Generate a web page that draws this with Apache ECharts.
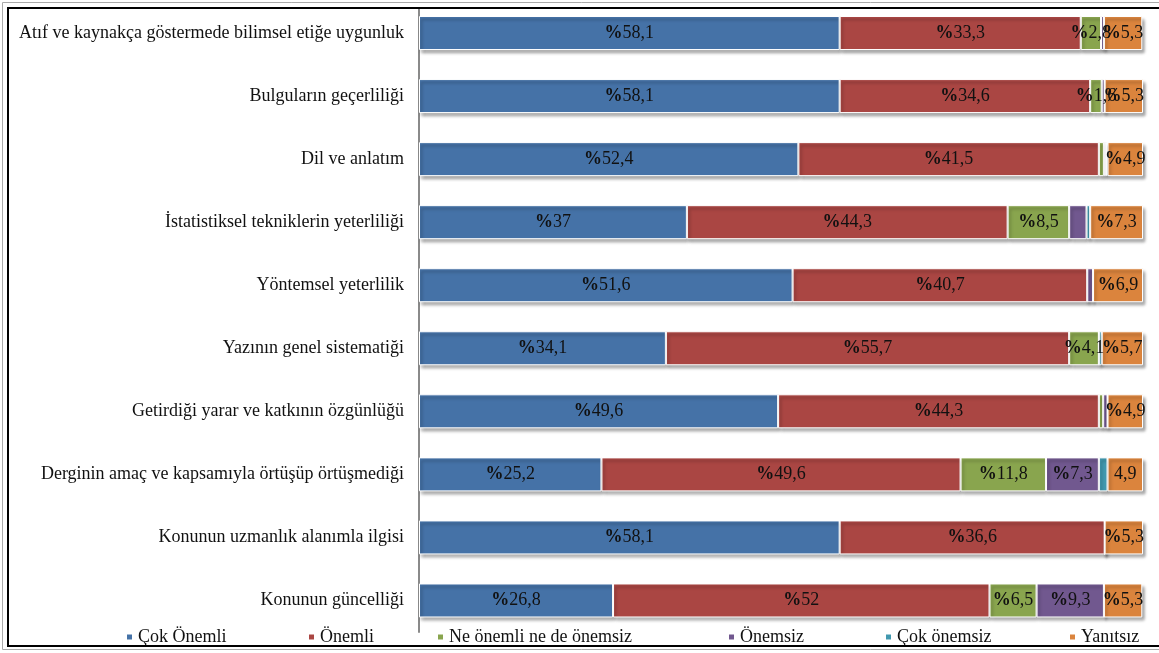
<!DOCTYPE html>
<html><head><meta charset="utf-8">
<script src="https://cdn.jsdelivr.net/npm/echarts@6/dist/echarts.min.js"></script>
<style>html,body{margin:0;padding:0;background:#fff}#c{width:1159px;height:653px}</style>
</head><body><div id="c"></div>
<script>
const categories = [
  "Atıf ve kaynakça göstermede bilimsel etiğe uygunluk",
  "Bulguların geçerliliği",
  "Dil ve anlatım",
  "İstatistiksel tekniklerin yeterliliği",
  "Yöntemsel yeterlilik",
  "Yazının genel sistematiği",
  "Getirdiği yarar ve katkının özgünlüğü",
  "Derginin amaç ve kapsamıyla örtüşüp örtüşmediği",
  "Konunun uzmanlık alanımla ilgisi",
  "Konunun güncelliği"
];
const seriesNames = ["Çok Önemli","Önemli","Ne önemli ne de önemsiz","Önemsiz","Çok önemsiz","Yanıtsız"];
const cokOnemli   = [58.1, 58.1, 52.4, 37,   51.6, 34.1, 49.6, 25.2, 58.1, 26.8];
const onemli      = [33.3, 34.6, 41.5, 44.3, 40.7, 55.7, 44.3, 49.6, 36.6, 52];
const neNe        = [2.8,  1.6,  0.7,  8.5,  0,    4.1,  0.6,  11.8, 0,    6.5];
const onemsiz     = [0.4,  0.4,  0.3,  2.4,  0.8,  0,    0.6,  7.3,  0,    9.3];
const cokOnemsiz  = [0,    0,    0.2,  0.5,  0,    0.4,  0,    1.2,  0,    0];
const yanitsiz    = [5.3,  5.3,  4.9,  7.3,  6.9,  5.7,  4.9,  4.9,  5.3,  5.3];
const noPercent   = [[5, 7]]; // [seriesIndex, dataIndex] labels shown without "%"
const colors = ["#4572A7","#AA4643","#89A54E","#71588F","#4198AF","#DB843D"];
const labelMin = [1.5, 1.5, 1.5, 3, 3, 1.5];

const values = [cokOnemli, onemli, neNe, onemsiz, cokOnemsiz, yanitsiz];
const font = "Liberation Serif";

const chart = echarts.init(document.getElementById('c'));
const series = values.map((arr, si) => ({
  name: seriesNames[si],
  type: 'bar',
  stack: 'total',
  barWidth: 34,
  data: arr,
  itemStyle: {
    color: colors[si],
    borderColor: '#fff',
    borderWidth: 1,
    shadowColor: 'rgba(0,0,0,0.35)',
    shadowBlur: 3,
    shadowOffsetX: 2,
    shadowOffsetY: 3
  },
  label: {
    show: true,
    position: 'inside',
    color: '#111',
    fontFamily: font,
    fontSize: 18,
    formatter: p => {
      if (p.value < labelMin[si]) return '';
      const v = String(p.value).replace('.', ',');
      const np = noPercent.some(a => a[0] === si && a[1] === p.dataIndex);
      return np ? '{n|' + v + '}' : '{b|%}{n|' + v + '}';
    },
    rich: {
      b: { fontFamily: font, fontSize: 18, fontWeight: 'bold', color: '#111' },
      n: { fontFamily: font, fontSize: 18, color: '#111' }
    }
  }
}));

const legendLefts = [120, 302, 431, 722, 879, 1063];
const legends = seriesNames.map((n, i) => ({
  data: [n],
  left: legendLefts[i],
  top: 623,
  itemWidth: 7,
  itemHeight: 7,
  icon: 'rect',
  selectedMode: false,
  textStyle: { fontFamily: font, fontSize: 18, color: '#111' }
}));

chart.setOption({
  animation: false,
  backgroundColor: '#fff',
  textStyle: { fontFamily: font },
  color: colors,
  grid: { left: 419, right: 16, top: 1.5, bottom: 21, containLabel: false },
  legend: legends,
  xAxis: { type: 'value', min: 0, max: 100, show: false },
  yAxis: {
    type: 'category',
    data: categories,
    inverse: true,
    axisTick: { show: false },
    axisLine: { lineStyle: { color: '#8a8a8a', width: 2 } },
    axisLabel: { color: '#111', fontFamily: font, fontSize: 18, margin: 15 }
  },
  series: series,
  graphic: [
    { type: 'rect', silent: true, z: 99, shape: { x: 0, y: 0, width: 1159, height: 8 },
      style: { fill: '#fff' } },
    { type: 'rect', silent: true, z: 100, shape: { x: 2.5, y: 2.5, width: 1300, height: 647 },
      style: { fill: 'none', stroke: '#aaa', lineWidth: 1 } },
    { type: 'rect', silent: true, z: 100, shape: { x: 8, y: 8, width: 1300, height: 638 },
      style: { fill: 'none', stroke: '#000', lineWidth: 2 } }
  ]
});
</script></body></html>
